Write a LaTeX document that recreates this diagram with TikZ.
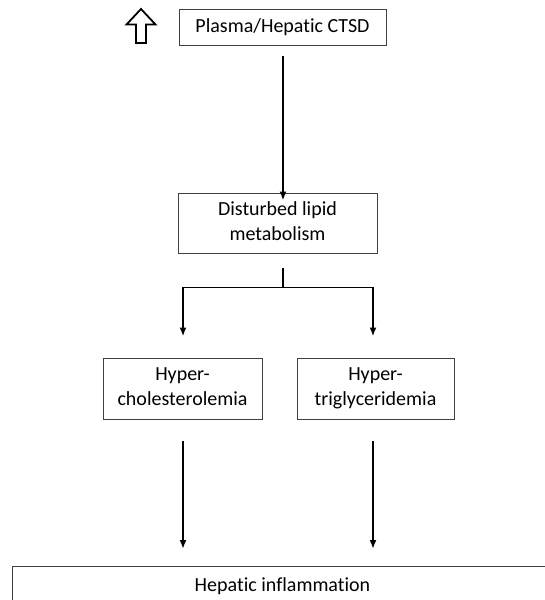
\documentclass[tikz,border=0pt]{standalone}
\usepackage{fontspec}
\setmainfont{Carlito}[Ligatures={NoCommon}]
\usetikzlibrary{arrows.meta}
\begin{document}
\begin{tikzpicture}[x=1pt,y=1pt,
  box/.style={draw=black!75, line width=1pt, inner sep=0pt, align=center,
    font=\fontsize{20}{25}\selectfont},
  arr/.style={draw=black, line width=1.8pt, -{Latex[length=9pt,width=7pt]}},
  ln/.style={draw=black, line width=1.8pt}]
\useasboundingbox (0,0) rectangle (545,-600);
\begin{scope}
\clip (0,0) rectangle (545,-600);
% nodes
\node[box, minimum width=207, minimum height=36] (top) at (282.5,-27) {Plasma/Hepatic CTSD};
\node[box, minimum width=199, minimum height=60] (dlm) at (277.5,-223) {Disturbed lipid\\metabolism\vphantom{p}};
\node[box, minimum width=159, minimum height=61] (hc) at (182.5,-388.5) {Hyper-\\cholesterolemia\vphantom{g}};
\node[box, minimum width=157, minimum height=61] (ht) at (375.5,-388.5) {Hyper-\\triglyceridemia};
\node[box, minimum width=541, minimum height=54, anchor=north west] (hi) at (12,-566) {};
\node[font=\fontsize{20}{25}\selectfont, inner sep=0pt, anchor=base] (hitext) at (282.5,-591) {Hepatic inflammation};
% up block arrow
\draw[black, line width=1.8pt, line join=miter]
  (141,-9) -- (155.5,-24.5) -- (146,-24.5) -- (146,-43) -- (136,-43) -- (136,-24.5) -- (126.5,-24.5) -- cycle;
% connectors
\draw[arr] ([xshift=0.5pt,yshift=-10pt]top.south) -- ([xshift=5.5pt,yshift=-8pt]dlm.north);
\coordinate (stemtop) at ([xshift=5.5pt,yshift=-14pt]dlm.south);
\coordinate (stembot) at ([xshift=5.5pt,yshift=-34pt]dlm.south);
\draw[ln] (stemtop) -- (stembot);
\draw[arr] (stembot) -| ([yshift=21pt,xshift=0.5pt]hc.north);
\draw[arr] (stembot) -| ([yshift=21pt,xshift=-2.5pt]ht.north);
\draw[arr] ([xshift=0.5pt,yshift=-21pt]hc.south) -- ([xshift=0.5pt,yshift=17pt]hc.south |- hi.north);
\draw[arr] ([xshift=-2.5pt,yshift=-21pt]ht.south) -- ([xshift=-2.5pt,yshift=17pt]ht.south |- hi.north);
\end{scope}
\end{tikzpicture}
\end{document}
